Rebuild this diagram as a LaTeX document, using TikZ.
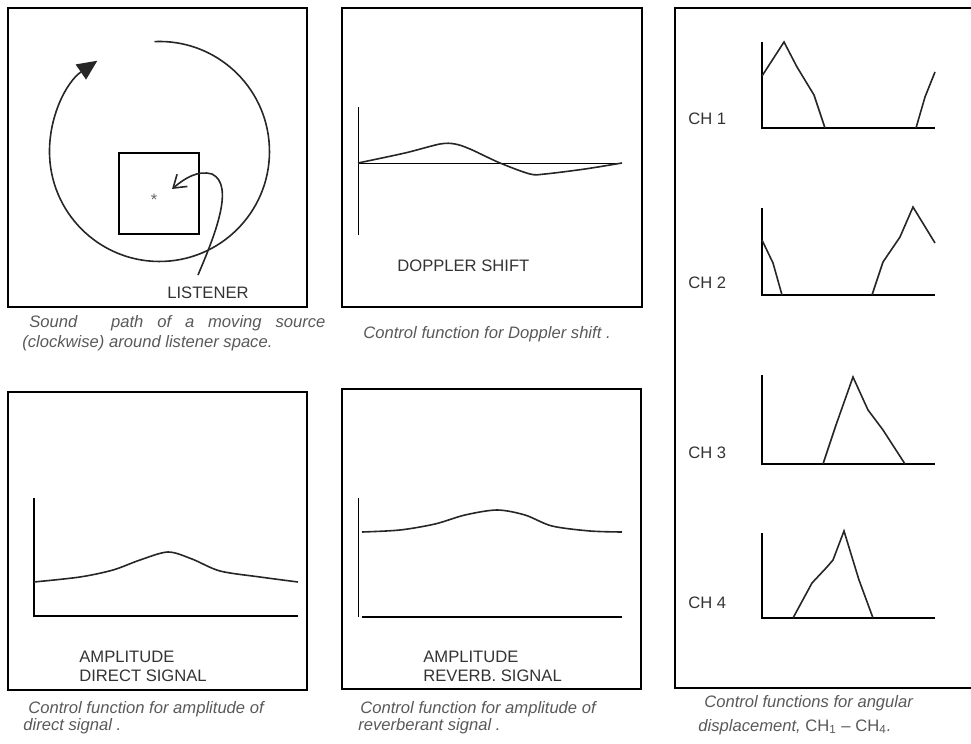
\documentclass[tikz,border=0pt]{standalone}
\usepackage{fontspec}
\setmainfont{Liberation Sans}
\usetikzlibrary{arrows.meta}

\tikzset{
  panel/.style={line width=1pt},
  axis/.style={line width=0.9pt},
  hair/.style={line width=0.5pt},
  curve/.style={line width=0.8pt, black!85},
  lbl/.style={font=\fontsize{8.3}{10}\selectfont, text=black!80, inner sep=0, anchor=base west},
  captxt/.style={lbl, font=\fontsize{8.3}{10}\selectfont\itshape, text=black!65},
}

\begin{document}
\begin{tikzpicture}[x=0.5pt, y=-0.5pt]
  \useasboundingbox (0,0) rectangle (971,744);

  % frames
  \draw[panel] (8,8) rectangle (307,307);
  \draw[panel] (342,8) rectangle (642,307);
  \draw[panel] (8,392) rectangle (307,690);
  \draw[panel] (342,389) rectangle (641,689);
  \draw[panel] (971,8) -| (675,688) -- (971,688);

  % moving source around the listener
  \draw[curve, -{Triangle[length=10pt,width=9pt]}] (154.5,41.6)
    arc[start angle=-92.6, end angle=235.6, radius=110];
  \draw[panel] (119,153) rectangle (199,234);
  \node[lbl, anchor=center, text=black!60] (star) at (154,200) {*};
  \node[lbl] (listener) at (167,298) {LISTENER};
  \coordinate (src) at (198,275);
  \coordinate (aim) at (172,189);
  \draw[curve, -{Straight Barb[length=6pt,width=8pt]}] (src)
    .. controls (215,235) and (235,185) .. (212,174)
    .. controls (198,170) and (185,178) .. (aim);
  \node[captxt] (cap-path-a) at (29,327)
    {\makebox[148pt][s]{Sound\hspace{1.2em} path of a moving source}};
  \node[captxt] (cap-path-b) at (22,347) {(clockwise) around listener space.};

  % doppler shift
  \draw[hair] (358,107) -- (358,235);
  \draw[hair] (358,163) -- (622,163);
  \draw[curve] plot[smooth] coordinates {(358,163) (405,153) (440,144)
    (455,144) (470,149) (500,163) (530,174) (545,174) (585,169) (622,163)};
  \node[lbl] (doppler) at (397,271) {DOPPLER SHIFT};
  \node[captxt] (cap-doppler) at (363,338) {Control function for Doppler shift .};

  % amplitude, direct signal
  \draw[axis] (34,498) -- (34,616) -- (298,616);
  \draw[curve] plot[smooth] coordinates {(34,582) (80,577) (113,570)
    (140,560) (168,552) (192,559) (220,571) (260,577) (298,582)};
  \node[lbl] (amp-direct) at (79,662) {AMPLITUDE};
  \node[lbl] (sig-direct) at (79,681) {DIRECT SIGNAL};
  \node[captxt] (cap-direct-a) at (28,713) {Control function for amplitude of};
  \node[captxt] (cap-direct-b) at (23,730) {direct signal .};

  % amplitude, reverberant signal
  \draw[hair] (358,498) -- (358,617);
  \draw[axis] (362,617) -- (622,617);
  \draw[curve] plot[smooth] coordinates {(362,532) (400,530) (435,524)
    (465,515) (497,510) (525,515) (552,526) (590,531) (622,532)};
  \node[lbl] (amp-reverb) at (423,662) {AMPLITUDE};
  \node[lbl] (sig-reverb) at (423,681) {REVERB. SIGNAL};
  \node[captxt] (cap-reverb-a) at (360,713) {Control function for amplitude of};
  \node[captxt] (cap-reverb-b) at (358,730) {reverberant signal .};

  % angular displacement, four channels
  \foreach \top/\base/\txt/\n in {42/128/124/1, 208/295/288/2,
                                  375/464/458/3, 533/618/608/4} {
    \draw[axis] (762,\top) -- (762,\base) -- (935,\base);
    \node[lbl] (ch\n) at (688,\txt) {CH \n};
  }
  \draw[curve] (762,76) -- (784,42) -- (797,67) -- (814,95) -- (825,128);
  \draw[curve] (916,128) -- (925,97) -- (935,72);
  \draw[curve] (762,240) -- (773,263) -- (782,295);
  \draw[curve] (872,295) -- (883,262) -- (900,237) -- (913,207) -- (935,243);
  \draw[curve] (823,464) -- (836,425) -- (853,377) -- (868,410)
    -- (883,430) -- (905,464);
  \draw[curve] (793,618) -- (812,583) -- (827,567) -- (833,560)
    -- (844,531) -- (859,580) -- (873,618);
  \draw[line width=1.4pt] (772,618) -- (793,618) (873,618) -- (922,618);
  \node[captxt] (cap-ch-a) at (704,707) {Control functions for angular};
  \node[captxt] (cap-ch-b) at (698,731)
    {displacement, {\upshape CH\textsubscript{1} -- CH\textsubscript{4}}.};
\end{tikzpicture}
\end{document}
